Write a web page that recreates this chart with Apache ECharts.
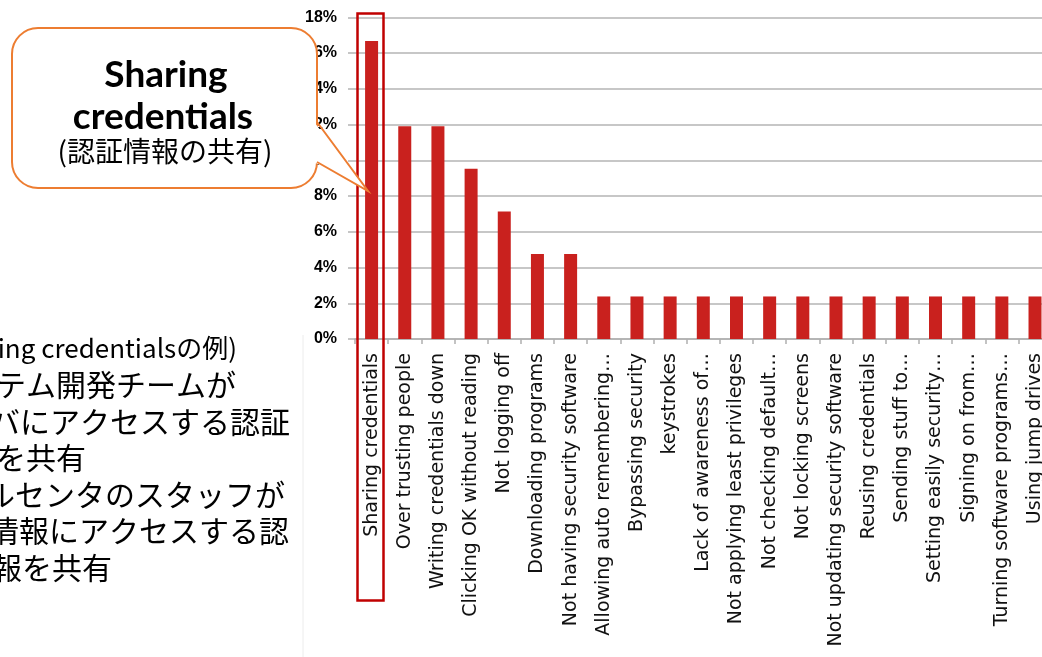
<!DOCTYPE html>
<html>
<head>
<meta charset="utf-8">
<script src="https://cdn.jsdelivr.net/npm/echarts@6/dist/echarts.min.js"></script>
<style>
  html, body { margin: 0; padding: 0; overflow: hidden; background: #fff; }
  #main { width: 1060px; height: 657px; }
</style>
</head>
<body>
<div id="main"></div>
<script>
  // 項目名 (ラベルは元のグラフ同様に省略表示)
  const categories = [
    'Sharing credentials', 'Over trusting people', 'Writing credentials down',
    'Clicking OK without reading', 'Not logging off', 'Downloading programs',
    'Not having security software', 'Allowing auto remembering…', 'Bypassing security',
    'keystrokes', 'Lack of awareness of…', 'Not applying least privileges',
    'Not checking default…', 'Not locking screens', 'Not updating security software',
    'Reusing credentials', 'Sending stuff to…', 'Setting easily security…',
    'Signing on from…', 'Turning software programs…', 'Using jump drives'
  ]
  // 割合(%)
  const shares = [16.67, 11.9, 11.9, 9.52, 7.14, 4.76, 4.76, 2.38, 2.38, 2.38, 2.38,
    2.38, 2.38, 2.38, 2.38, 2.38, 2.38, 2.38, 2.38, 2.38, 2.38]
  const yMax = 18
  const yStep = 2
  const calloutLines = ['Sharing', 'credentials', '(認証情報の共有)']
  const noteLines = [
    '(Sharing credentialsの例)',
    '・システム開発チームが',
    'サーバにアクセスする認証',
    '情報を共有',
    '・コールセンタのスタッフが',
    '顧客情報にアクセスする認',
    '証情報を共有'
  ]
  const noteRight = [237, 236, 290, 86, 285, 289, 112] // 各行の右端

  const ORANGE = '#ed7d31'
  const chart = echarts.init(document.getElementById('main'))

  let graphics = []
  // 元画像の左端の薄い線
  graphics.push({
    type: 'line', z: 90,
    shape: { x1: 303, y1: 335, x2: 303, y2: 657 },
    style: { stroke: '#ececec', lineWidth: 1 }
  })
  // 吹き出し
  graphics.push({
    type: 'rect', z: 100,
    shape: { x: 12, y: 28, width: 305, height: 160, r: 26 },
    style: { fill: '#fff', stroke: ORANGE, lineWidth: 2 }
  })
  graphics.push({
    type: 'polygon', z: 101,
    shape: { points: [[314, 122], [368, 191], [314, 162]] },
    style: { fill: '#fff' }
  })
  graphics.push({
    type: 'polyline', z: 102,
    shape: { points: [[317, 122], [368, 191], [317, 162]] },
    style: { stroke: ORANGE, lineWidth: 2, fill: null }
  })
  graphics.push({
    type: 'text', z: 103, x: 166, y: 75,
    style: { text: calloutLines[0], fill: '#000', font: 'bold 37px Lato', align: 'center', verticalAlign: 'middle' }
  })
  graphics.push({
    type: 'text', z: 103, x: 163, y: 117,
    style: { text: calloutLines[1], fill: '#000', font: 'bold 37px Lato', align: 'center', verticalAlign: 'middle' }
  })
  graphics.push({
    type: 'text', z: 103, x: 165, y: 151,
    style: { text: calloutLines[2], fill: '#000', font: '28px "Noto Sans CJK JP"', align: 'center', verticalAlign: 'middle' }
  })
  // 赤枠
  graphics.push({
    type: 'rect', z: 100,
    shape: { x: 357.5, y: 13.5, width: 26, height: 587 },
    style: { fill: 'none', stroke: '#c00000', lineWidth: 2.5 }
  })
  // 左下の説明文 (左端は画面外で切れている)
  noteLines.forEach((t, i) => {
    let size = i === 0 ? 26 : 30
    graphics.push({
      type: 'text', z: 101, x: noteRight[i], y: 348 + i * 36.6,
      style: { text: t, fill: '#000', font: size + 'px "Noto Sans CJK JP"', align: 'right', verticalAlign: 'middle' }
    })
  })

  let option = {
    animation: false,
    backgroundColor: '#fff',
    grid: { left: 355, right: 8.4, top: 17.3, bottom: 318 },
    xAxis: {
      type: 'category',
      data: categories,
      axisLine: { lineStyle: { color: '#b0b0b0', width: 1.5 } },
      axisTick: { show: true, length: 5, lineStyle: { color: '#b0b0b0', width: 1.5 } },
      axisLabel: {
        rotate: 90, interval: 0, margin: 14,
        fontFamily: 'DejaVu Sans', fontSize: 19, color: '#111'
      }
    },
    yAxis: {
      type: 'value',
      min: 0, max: yMax, interval: yStep,
      axisLine: { show: false },
      axisTick: { show: true, length: 7, lineStyle: { color: '#b4b4b4', width: 1.5 } },
      axisLabel: {
        formatter: '{value}%', margin: 18,
        fontFamily: 'Liberation Sans', fontWeight: 'bold', fontSize: 16, color: '#000'
      },
      splitLine: { lineStyle: { color: '#b4b4b4', width: 1.5 } }
    },
    series: [{
      type: 'bar',
      data: shares,
      barWidth: 13,
      itemStyle: { color: '#c9211e' }
    }],
    graphic: graphics
  }
  chart.setOption(option)
</script>
</body>
</html>
